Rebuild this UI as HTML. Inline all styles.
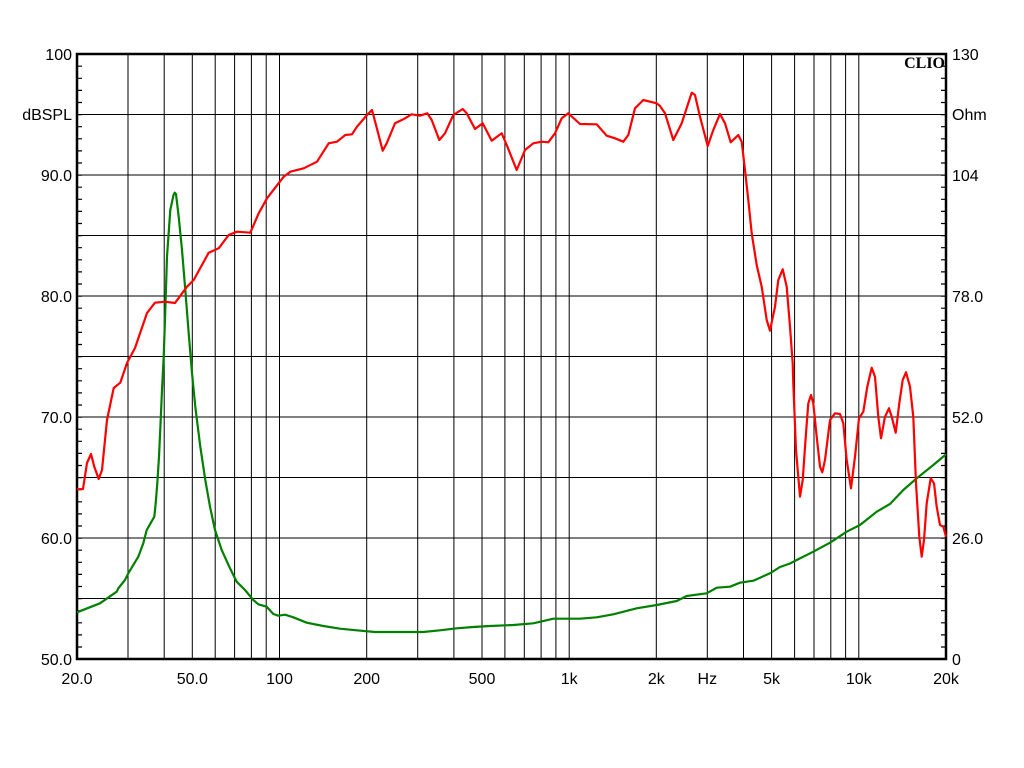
<!DOCTYPE html>
<html><head><meta charset="utf-8"><style>
html,body{margin:0;padding:0;background:#fff;}
svg{display:block;}
text{font-family:"Liberation Sans",Arial,sans-serif;font-size:16px;fill:#000;}
</style></head><body>
<svg width="1024" height="768" viewBox="0 0 1024 768" xmlns="http://www.w3.org/2000/svg">
<rect width="1024" height="768" fill="#fff"/>
<g stroke="#000" stroke-width="1" fill="none">
<path d="M77 114.5H946M77 175H946M77 235.5H946M77 296H946M77 356.5H946M77 417H946M77 477.5H946M77 538H946M77 598.5H946"/>
<path d="M128 54V659M164.2 54V659M192.3 54V659M215.2 54V659M234.6 54V659M251.4 54V659M266.2 54V659M279.5 54V659M366.7 54V659M417.7 54V659M453.9 54V659M482 54V659M504.9 54V659M524.3 54V659M541.1 54V659M555.9 54V659M569.2 54V659M656.3 54V659M707.3 54V659M743.5 54V659M771.6 54V659M794.6 54V659M814 54V659M830.8 54V659M845.6 54V659M858.8 54V659"/>
</g>
<g stroke="#000" stroke-width="5" fill="none">
<path d="M79.5 53.5V660" stroke-dasharray="1.2 10.9"/>
<path d="M943.5 53.5V660" stroke-dasharray="1.2 10.9"/>
</g>
<rect x="77" y="54" width="869" height="605" fill="none" stroke="#000" stroke-width="2.5"/>
<polyline fill="none" stroke="#008000" stroke-width="2.2" stroke-linejoin="round" points="77,612.3 100,603.3 116.7,591.7 118.3,588.3 125,580 128.3,573.3 138.3,556.7 143.3,543.3 146.7,530 150,524.3 154.3,516.7 155.7,503.3 157.3,483.3 159,456.7 160.7,420 162,390 163.7,356.7 165.3,310 167,256.7 170.3,210 173.5,195 174.7,192.7 176,194 178.7,216.7 182,250 185.3,290 188.7,333.3 192,373 195.3,406.7 200.3,446.7 205.3,480 210,506.7 215,530 221.7,550 230,568.3 236.7,581.7 245,590 253.3,600 258.3,604.3 266.7,606.7 273.3,614 278.3,615.7 285,614.7 293.3,617.3 306.7,622.7 323.3,626 340,628.7 356.7,630.3 375,632 423.3,632 440,630.3 456.7,628.3 473.3,627 490,626 513.3,625 533.3,623.3 553.3,618.7 580,618.7 596.7,617.3 613.3,614.3 636.7,608.3 656.7,605 676.7,601 686.7,596 706.7,593.3 716.7,587.7 730,586.7 740,582.7 753.3,580.7 770,573.3 780,567 790,563.5 796.7,560 813.3,551.7 830,542.7 846.7,531.7 860,525 876.7,511.7 890,504 903.3,490 916.7,478.3 933.3,465 946,454.3"/>
<polyline fill="none" stroke="#ff0000" stroke-width="2.2" stroke-linejoin="round" points="77,489.3 83,489 87,463 91,454 94.3,466.7 98.7,479 102,470 107,420 113.7,388 120.3,382.7 127,363 135,348 147,313 155,302.7 165,301.7 175,303 187,286.7 193.7,280 208.7,252.7 218.7,248.3 228.7,235 237,231.7 250.3,232.7 258.7,213.3 267,198.3 283.7,176.7 290.3,171.7 303.7,168.3 317,161.7 328.7,143.3 337,141.7 345.3,135 352,134.3 357,126.7 367,115 372,110 376,125 382.7,150.7 386.7,143.3 395,123.3 403.3,119.3 411.7,114.3 420,115.7 427.3,113.3 431.7,120 439.3,140 445,133.3 453.3,115 462.7,109 466.7,113.3 475,129 482.7,123.3 491.7,140.7 501.7,133.3 506.7,145 516.7,170 525,150 533.3,143.3 541.7,141.7 548.3,142.3 555,133.3 561.7,118.3 568.3,113.3 580,124 596.7,124.3 606.7,135.7 615,138.3 623.3,141.7 628.3,135 635,108.3 643.3,100 656.7,103.3 660,106 665,113.3 673.3,140 681.7,123.3 691.7,92.7 695,95 700,116.7 707.7,146 713.3,130 720,114 725,123.3 730.7,142.3 738.3,135 741.7,141.7 745,170 748.3,200 751.7,233.3 756.7,265 761.7,286.7 766.7,320 770,330.7 775,306.7 778.3,280 782.7,269.3 786.7,286.7 790,326.7 792.7,363.3 793.3,383.3 796,450 800,496.7 802.7,480 806,433.3 808.3,403.3 811,395 813.3,403.3 816.7,436.7 820,466.7 822.3,472.3 825,460 830,420 835,413.3 840,414 843.3,423.3 846.7,460 851,488.3 855,456.7 859,418.3 863.3,411.7 867.3,386.7 871.7,367.7 875,376.7 878.3,416.7 881,438.3 885,416.7 889,408.3 891.7,416.7 895.7,432.7 899.3,403.3 902.7,380 906,372.3 910,386.7 913.3,416.7 916,483.3 919.3,536.7 921.7,556.7 924,540 926.7,503.3 930.7,478.3 934,483.3 936.7,506.7 940,525 943.3,526.7 946,536.7"/>
<text x="945" y="68" text-anchor="end" style="font-family:'Liberation Serif',serif;font-weight:bold;font-size:16px;">CLIO</text>
<g text-anchor="end">
<text x="72" y="60">100</text>
<text x="72" y="120">dBSPL</text>
<text x="72" y="181">90.0</text>
<text x="72" y="302">80.0</text>
<text x="72" y="423">70.0</text>
<text x="72" y="544">60.0</text>
<text x="72" y="665">50.0</text>
</g>
<g text-anchor="start">
<text x="952" y="60">130</text>
<text x="952" y="120">Ohm</text>
<text x="952" y="181">104</text>
<text x="952" y="302">78.0</text>
<text x="952" y="423">52.0</text>
<text x="952" y="544">26.0</text>
<text x="952" y="665">0</text>
</g>
<g text-anchor="middle">
<text x="77" y="684">20.0</text>
<text x="192.3" y="684">50.0</text>
<text x="279.5" y="684">100</text>
<text x="366.7" y="684">200</text>
<text x="482" y="684">500</text>
<text x="569.2" y="684">1k</text>
<text x="656.3" y="684">2k</text>
<text x="707.3" y="684">Hz</text>
<text x="771.6" y="684">5k</text>
<text x="858.8" y="684">10k</text>
<text x="946" y="684">20k</text>
</g>
</svg>
</body></html>
